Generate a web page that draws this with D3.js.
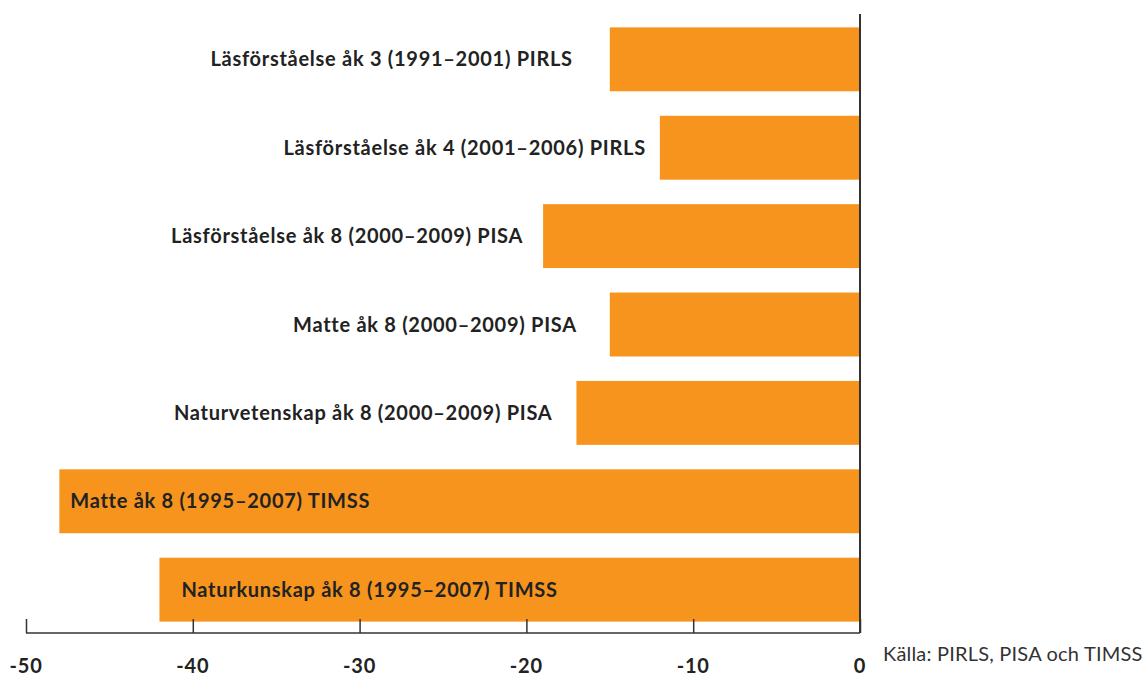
<!DOCTYPE html>
<html>
<head>
<meta charset="utf-8">
<script src="https://cdn.jsdelivr.net/npm/d3@7"></script>
<style>
  body { margin: 0; background: #fff; }
  svg { display: block; }
</style>
</head>
<body>
<script>
// data
const categories = [
  "Läsförståelse åk 3 (1991–2001) PIRLS",
  "Läsförståelse åk 4 (2001–2006) PIRLS",
  "Läsförståelse åk 8 (2000–2009) PISA",
  "Matte åk 8 (2000–2009) PISA",
  "Naturvetenskap åk 8 (2000–2009) PISA",
  "Matte åk 8 (1995–2007) TIMSS",
  "Naturkunskap åk 8 (1995–2007) TIMSS"
];
const values = [-15, -12, -19, -15, -17, -48, -42];
const tickValues = [-50, -40, -30, -20, -10, 0];
const source = "Källa: PIRLS, PISA och TIMSS";

// label layout (gap from bar start; positive = outside left, negative = inside)
const labelGap = [37, 14, 20, 33, 24, -11, -22];

const w = 1146, h = 676;
const orange = "#F7941D";
const ink = "#222";

const svg = d3.select("body").append("svg")
  .attr("width", w)
  .attr("height", h);

const x = d3.scaleLinear().domain([-50, 0]).range([26, 860]);
const y = d3.scaleBand()
  .domain(categories)
  .range([15, 634])
  .paddingInner(0.277)
  .paddingOuter(0.14);

// bars
svg.selectAll("rect.bar")
  .data(values)
  .enter()
  .append("rect")
  .attr("class", "bar")
  .attr("x", d => x(d))
  .attr("y", (d, i) => y(categories[i]))
  .attr("width", d => x(0) - x(d))
  .attr("height", y.bandwidth())
  .attr("fill", orange);

// labels
svg.selectAll("text.lab")
  .data(values)
  .enter()
  .append("text")
  .attr("class", "lab")
  .attr("x", (d, i) => x(d) - labelGap[i])
  .attr("y", (d, i) => y(categories[i]) + y.bandwidth() / 2 + 7)
  .attr("text-anchor", (d, i) => labelGap[i] > 0 ? "end" : "start")
  .style("font-family", "Lato, 'Open Sans', sans-serif")
  .style("font-weight", "bold")
  .style("font-size", "20px")
  .style("letter-spacing", "0.72px")
  .attr("fill", ink)
  .text((d, i) => categories[i]);

// x axis
const xAxis = d3.axisTop(x)
  .tickValues(tickValues)
  .tickSize(14)
  .tickFormat("");
const gx = svg.append("g")
  .attr("transform", "translate(0,633)")
  .call(xAxis);
gx.select(".domain").remove();
gx.selectAll(".tick line").attr("stroke", "#333").attr("stroke-width", 1.5);
gx.append("line")
  .attr("x1", x(-50)).attr("x2", x(0))
  .attr("stroke", "#333").attr("stroke-width", 1.5);

svg.selectAll("text.tick")
  .data(tickValues)
  .enter()
  .append("text")
  .attr("class", "tick")
  .attr("x", d => x(d))
  .attr("y", 673)
  .attr("text-anchor", "middle")
  .style("font-family", "Lato, 'Open Sans', sans-serif")
  .style("font-weight", "bold")
  .style("font-size", "20px")
  .style("letter-spacing", "0.8px")
  .attr("fill", ink)
  .text(d => d);

// vertical zero line
svg.append("line")
  .attr("x1", x(0)).attr("x2", x(0))
  .attr("y1", 14).attr("y2", 633)
  .attr("stroke", "#333")
  .attr("stroke-width", 2);

// source
svg.append("text")
  .attr("x", 883)
  .attr("y", 661)
  .style("font-family", "Lato, 'Open Sans', sans-serif")
  .style("font-size", "20px")
  .style("letter-spacing", "0.2px")
  .attr("fill", "#333")
  .text(source);
</script>
</body>
</html>
